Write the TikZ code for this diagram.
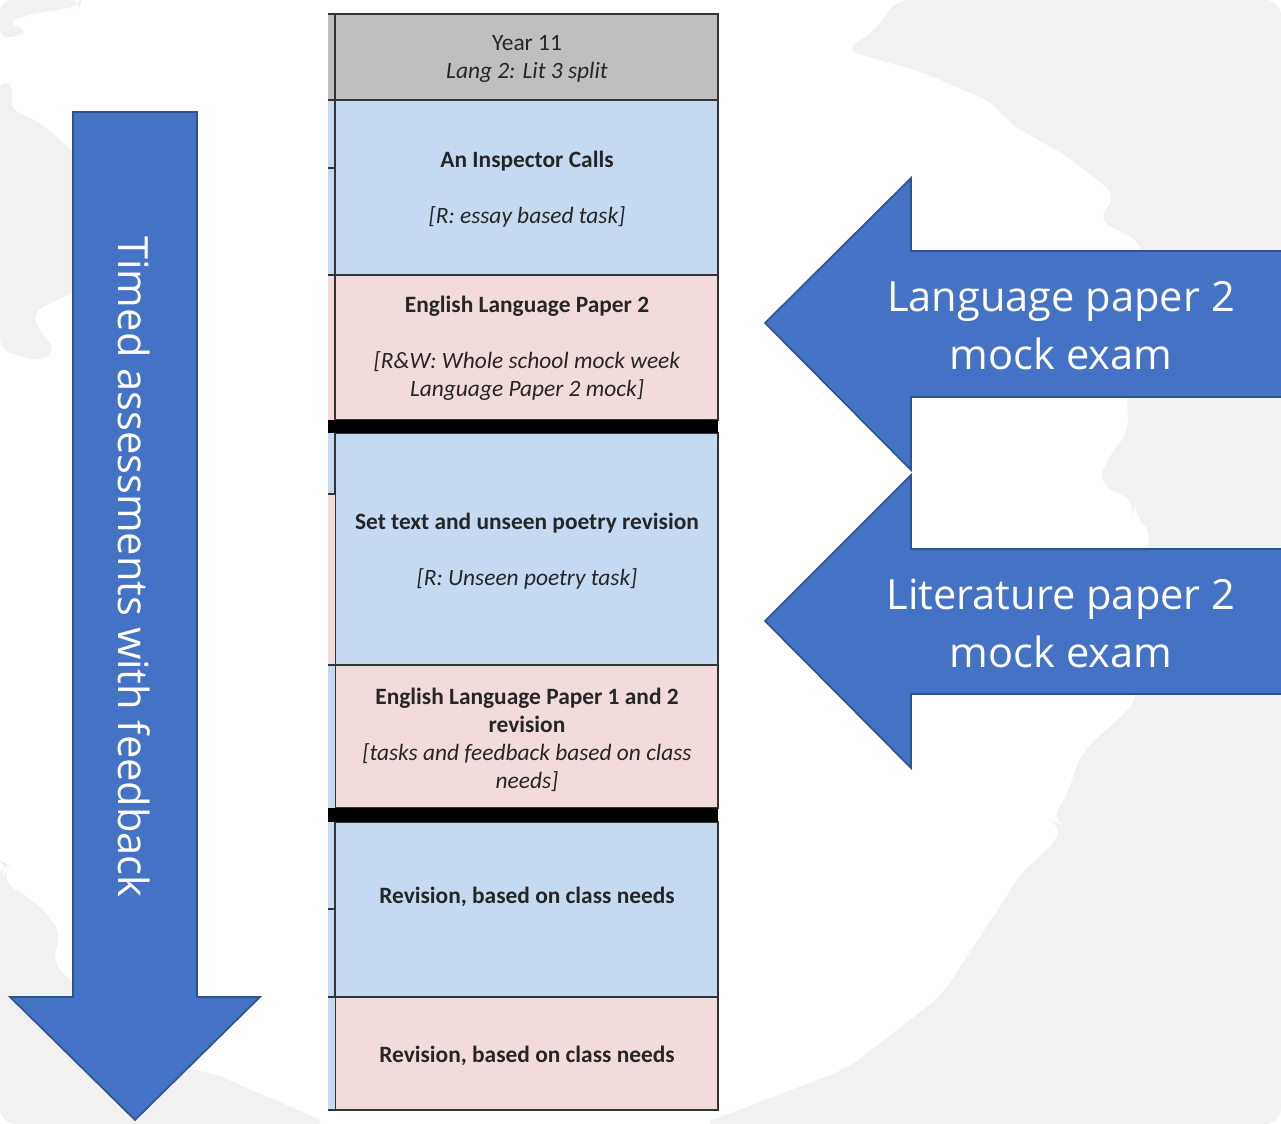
\documentclass[tikz,border=0pt]{standalone}
\usepackage{fontspec}
\setmainfont{Carlito}
\newfontfamily\arrowfont{Open Sans}
\usetikzlibrary{positioning}
\definecolor{arrowblue}{HTML}{4472C4}
\definecolor{arrowline}{HTML}{2F528F}
\definecolor{cellblue}{HTML}{C5D9F1}
\definecolor{cellpink}{HTML}{F2DCDB}
\definecolor{cellgray}{HTML}{BFBFBF}
\definecolor{watermark}{HTML}{F1F1F1}
\newcommand{\termcell}[3]{ % #1: top y, #2: bottom y, #3: fill colour
  \fill[#3] (328,#1) rectangle (335,#2); % narrow strip on the left
  \draw[cellline, fill=#3] (335,#1) rectangle (718,#2); % main cell
}
\tikzset{
  cellline/.style={draw=black!80, line width=0.7pt},
  celltext/.style={align=center, text=black!85, font=\fontsize{11.7}{14}\selectfont},
  bigarrow/.style={fill=arrowblue, draw=arrowline, line width=0.8pt, line join=miter},
  arrowtext/.style={align=center, text=white, font=\arrowfont\fontsize{20.8}{29}\selectfont},
}

\begin{document}
\begin{tikzpicture}[x=0.5pt, y=-0.5pt]

\useasboundingbox (0,0) rectangle (1281,1124);
\clip (0,0) rectangle (1281,1124);

% Faded background picture
\fill[white] (0,0) rectangle (1281,1124);
\fill[watermark, rounded corners=8] (894,0) -- (878,29) -- (844,50) -- (922,72) -- (996,104) -- (1007,122)
  -- (1070,158) -- (1118,197) -- (1096,219) -- (1144,244) -- (1136,330) -- (1126,401) -- (1130,430)
  -- (1107,459) -- (1098,484) -- (1137,502) -- (1131,516) -- (1152,527) -- (1148,545) -- (1140,620)
  -- (1137,702) -- (1081,753) -- (1067,796) -- (1050,821) -- (1063,824) -- (1056,842) -- (1019,875)
  -- (1007,896) -- (941,996) -- (848,1068) -- (737,1111) -- (700,1124) -- (1281,1124) -- (1281,0) -- cycle;
\fill[watermark, rounded corners=6] (0,0) -- (82,0) -- (80,6) -- (32,14) -- (6,22) -- (30,32) -- (0,40) -- cycle;
\fill[watermark, rounded corners=6] (0,78) -- (17,90) -- (7,107) -- (37,121) -- (60,139) -- (80,160)
  -- (80,290) -- (33,311) -- (37,329) -- (57,350) -- (40,362) -- (0,350) -- cycle;
\fill[watermark, rounded corners=8] (0,860) -- (10,866) -- (0,880) -- (40,905) -- (63,935) -- (50,960)
  -- (90,1000) -- (60,1040) -- (130,1062) -- (210,1072) -- (330,1124) -- (0,1124) -- cycle;

% Timed assessments arrow (pointing down)
\draw[bigarrow] (73,112) -- (197,112) -- (197,997) -- (260,997) -- (135,1120) -- (10,997) -- (73,997) -- cycle;
\node[arrowtext, rotate=-90] (timed) at (134,567) {Timed assessments with feedback};

% Scheme of work table, Year 11
\termcell{14}{100}{cellgray}
\termcell{100}{275}{cellblue}
\termcell{275}{420}{cellpink}
\termcell{433}{665}{cellblue}
\termcell{665}{808}{cellpink}
\termcell{822}{997}{cellblue}
\termcell{997}{1110}{cellpink}

% colour changes in the left strip
\fill[cellpink] (328,494) rectangle (335,665);
\fill[cellblue] (328,665) rectangle (335,808);
\fill[cellblue] (328,997) rectangle (335,1110);
\foreach \y in {14,100,168,275,494,665,909,997,1110}
{
    \draw[cellline] (328,\y) -- (335,\y);
}

% Black bars between the half terms
\fill[black] (328,420) rectangle (718,433);
\fill[black] (328,808) rectangle (718,822);

% Cell texts
\node[celltext] (year) at (527,59) {Year 11\\\textit{Lang 2: Lit 3 split}};
\node[celltext] (inspector) at (527,189) {\textbf{An Inspector Calls}\\[14pt]\textit{[R: essay based task]}};
\node[celltext] (langtwo) at (527,348) {\textbf{English Language Paper 2}\\[14pt]\textit{[R\&W: Whole school mock week}\\\textit{Language Paper 2 mock]}};
\node[celltext] (poetry) at (527,551) {\textbf{Set text and unseen poetry revision}\\[14pt]\textit{[R: Unseen poetry task]}};
\node[celltext] (langboth) at (527,740) {\textbf{English Language Paper 1 and 2}\\\textbf{revision}\\\textit{[tasks and feedback based on class}\\\textit{needs]}};
\node[celltext] (revisionA) at (527,897) {\textbf{Revision, based on class needs}};
\node[celltext] (revisionB) at (527,1056) {\textbf{Revision, based on class needs}};

% Mock exam arrows (pointing left)
\draw[bigarrow] (765,323) -- (911,178) -- (911,251) -- (1295,251) -- (1295,397) -- (911,397) -- (911,470) -- cycle;
\node[arrowtext] (langmock) at (1061,326) {Language paper 2\\mock exam};

\draw[bigarrow] (765,621) -- (911,475) -- (911,549) -- (1295,549) -- (1295,694) -- (911,694) -- (911,768) -- cycle;
\node[arrowtext] (litmock) at (1061,623) {Literature paper 2\\mock exam};

\end{tikzpicture}
\end{document}
